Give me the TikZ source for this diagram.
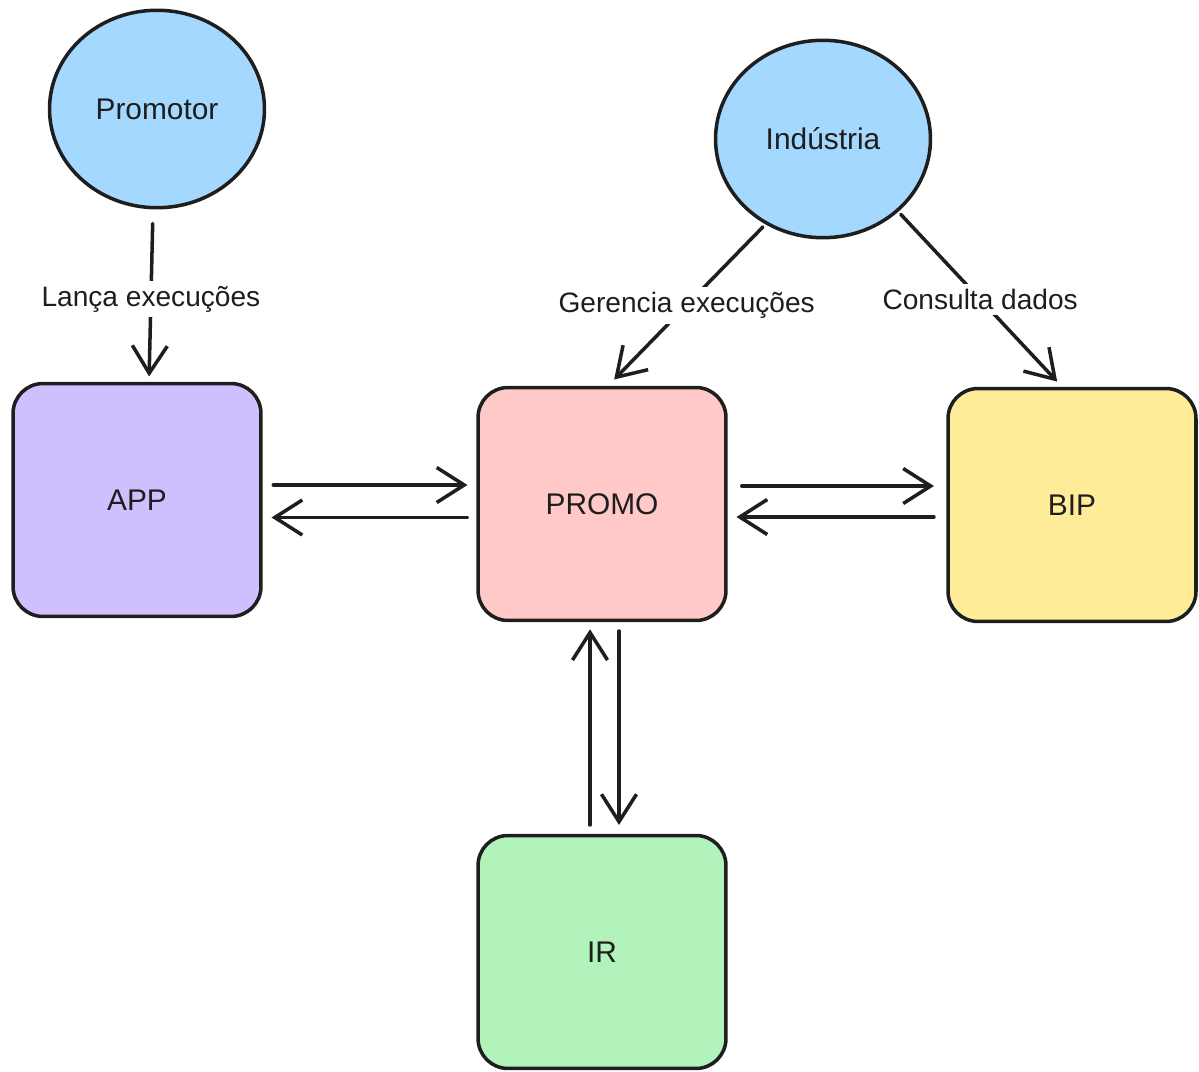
\documentclass[tikz,border=0pt]{standalone}
\usepackage{fontspec}
\setmainfont{Liberation Sans}
\usetikzlibrary{arrows.meta,shapes.geometric}

\definecolor{inkc}{HTML}{1E1E1E}
\definecolor{actorc}{HTML}{A5D8FF}
\definecolor{appc}{HTML}{D0BFFF}
\definecolor{promoc}{HTML}{FFC9C9}
\definecolor{bipc}{HTML}{FFEC99}
\definecolor{irc}{HTML}{B2F2BB}

\tikzset{
  actor/.style={ellipse,draw=inkc,line width=2pt,fill=actorc,
    minimum width=4.3cm,minimum height=3.95cm,font=\fontsize{17}{20}\selectfont,text=inkc},
  sysbox/.style={rectangle,rounded corners=0.6cm,draw=inkc,line width=2pt,
    minimum width=4.96cm,minimum height=4.66cm,font=\fontsize{17}{20}\selectfont,text=inkc},
  flow/.style={draw=inkc,line width=2pt,line cap=round,
    -{Straight Barb[length=5.5mm,width=7mm,line width=2pt]}},
  lbl/.style={fill=white,inner sep=3pt,font=\fontsize{16}{19}\selectfont,text=inkc}
}

\begin{document}
\begin{tikzpicture}[x=0.02cm,y=-0.02cm]
  \useasboundingbox (0,0) rectangle (1199,1071);

  % actors
  \node[actor] (promotor) at (157,109) {Promotor};
  \node[actor] (industria) at (823,139) {Indústria};

  % systems
  \node[sysbox,fill=appc] (app) at (137,500) {APP};
  \node[sysbox,fill=promoc] (promo) at (602,504) {PROMO};
  \node[sysbox,fill=bipc] (bip) at (1072,505) {BIP};
  \node[sysbox,fill=irc] (ir) at (602,952) {IR};

  % actor arrows
  \draw[flow,shorten <=8pt,shorten >=3pt] ([xshift=-0.08cm]promotor.south) -- ([xshift=0.24cm]app.north)
    node[lbl,pos=0.52] (lanca) {Lança execuções};
  \draw[flow,shorten <=2pt,shorten >=5pt] (industria.236) -- ([xshift=0.12cm]promo.north)
    node[lbl,pos=0.5] (gerencia) {Gerencia execuções};
  \draw[flow,shorten <=2pt,shorten >=4pt] (industria.316) -- ([xshift=-0.2cm]bip.north)
    node[lbl,pos=0.5] (consulta) {Consulta dados};

  % APP <-> PROMO
  \draw[flow,shorten <=6pt,shorten >=5pt] ([yshift=0.3cm]app.east) -- ([yshift=0.3cm]app.east -| promo.west);
  \draw[flow,shorten <=5pt,shorten >=5pt] ([yshift=-0.27cm]promo.west) -- ([yshift=-0.27cm]promo.west -| app.east);

  % PROMO <-> BIP
  \draw[flow,shorten <=8pt,shorten >=7pt] ([yshift=0.36cm]promo.east) -- ([yshift=0.36cm]promo.east -| bip.west);
  \draw[flow,shorten <=7pt,shorten >=5pt] ([yshift=-0.24cm]bip.west) -- ([yshift=-0.24cm]bip.west -| promo.east);

  % PROMO <-> IR
  \draw[flow,shorten <=5pt,shorten >=4pt] ([xshift=-0.24cm]ir.north) -- ([xshift=-0.24cm]ir.north |- promo.south);
  \draw[flow,shorten <=5pt,shorten >=5pt] ([xshift=0.34cm]promo.south) -- ([xshift=0.34cm]promo.south |- ir.north);
\end{tikzpicture}
\end{document}
